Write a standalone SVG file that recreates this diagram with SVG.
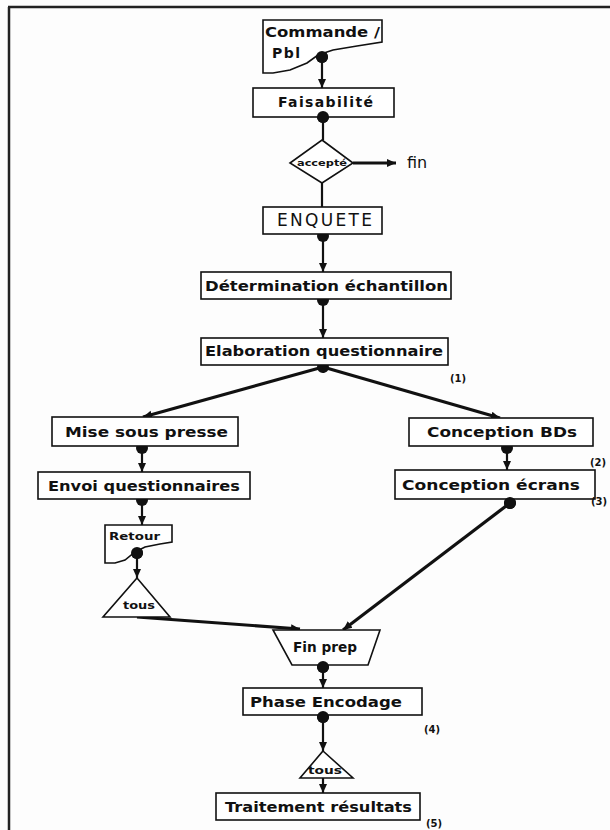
<svg xmlns="http://www.w3.org/2000/svg" width="610" height="830" viewBox="0 0 610 830">
<style>
.box{fill:#fff;stroke:#111;stroke-width:1.6}
.t{font-family:"DejaVu Sans","Liberation Sans",Arial,sans-serif;font-weight:bold;font-size:14px;fill:#111}
.s{font-family:"DejaVu Sans","Liberation Sans",Arial,sans-serif;font-weight:bold;font-size:11px;fill:#111}
.n{font-family:"DejaVu Sans","Liberation Sans",Arial,sans-serif;font-weight:bold;font-size:10px;fill:#111}
.c{stroke:#111;stroke-width:2.2;fill:none}
.k{stroke:#111;stroke-width:3.2;fill:none}
</style>
<defs>
<marker id="arr" markerUnits="userSpaceOnUse" markerWidth="10" markerHeight="10" refX="9" refY="5" orient="auto">
<path d="M0,1 L9,5 L0,9 Z" fill="#111"/>
</marker>
<marker id="dot" markerUnits="userSpaceOnUse" markerWidth="14" markerHeight="14" refX="7" refY="7" orient="auto">
<circle cx="7" cy="7" r="6" fill="#111"/>
</marker>
</defs>
<rect width="610" height="830" fill="#fdfdfd"/>
<g id="frame">
<line x1="8" y1="7" x2="610" y2="7" stroke="#222" stroke-width="2.5"/>
<line x1="9" y1="7" x2="9" y2="830" stroke="#222" stroke-width="2.5"/>
</g>
<g id="connectors">
<line class="c" x1="322" y1="57" x2="322" y2="88" marker-start="url(#dot)" marker-end="url(#arr)"/>
<line class="c" x1="323" y1="117" x2="323" y2="140" marker-start="url(#dot)"/>
<line class="k" x1="353" y1="163" x2="396" y2="163" marker-end="url(#arr)"/>
<line class="c" x1="322" y1="183" x2="322" y2="207"/>
<line class="c" x1="323" y1="236" x2="323" y2="272" marker-start="url(#dot)" marker-end="url(#arr)"/>
<line class="c" x1="323" y1="300" x2="323" y2="338" marker-start="url(#dot)" marker-end="url(#arr)"/>
<line class="k" x1="323" y1="367" x2="143" y2="417" marker-start="url(#dot)" marker-end="url(#arr)"/>
<line class="k" x1="323" y1="367" x2="500" y2="418" marker-end="url(#arr)"/>
<line class="c" x1="142" y1="448" x2="142" y2="472" marker-start="url(#dot)" marker-end="url(#arr)"/>
<line class="c" x1="507" y1="448" x2="507" y2="470" marker-start="url(#dot)" marker-end="url(#arr)"/>
<line class="c" x1="142" y1="500" x2="142" y2="525" marker-start="url(#dot)" marker-end="url(#arr)"/>
<line class="c" x1="137" y1="553" x2="137" y2="578" marker-start="url(#dot)" marker-end="url(#arr)"/>
<line class="k" x1="137" y1="617" x2="300" y2="629" marker-end="url(#arr)"/>
<line class="k" x1="510" y1="503" x2="343" y2="630" marker-start="url(#dot)" marker-end="url(#arr)"/>
<line class="c" x1="323" y1="667" x2="323" y2="688" marker-start="url(#dot)" marker-end="url(#arr)"/>
<line class="c" x1="323" y1="717" x2="323" y2="751" marker-start="url(#dot)" marker-end="url(#arr)"/>
<line class="c" x1="323" y1="778" x2="323" y2="793" marker-end="url(#arr)"/>
</g>
<g id="commande">
<path class="box" d="M263,20 L382,20 L382,42 L357,46 L333,50 L318,55 L307,63 L290,70 L273,73 L263,73 Z"/>
<text class="t" x="265" y="37" textLength="115" lengthAdjust="spacingAndGlyphs">Commande /</text>
<text class="t" x="272" y="58" textLength="28" lengthAdjust="spacing">Pbl</text>
<circle cx="322" cy="57" r="6" fill="#111"/>
</g>
<g id="faisabilite">
<rect class="box" x="253" y="88" width="141" height="29"/>
<text class="t" x="278" y="107" textLength="95" lengthAdjust="spacing">Faisabilité</text>
<circle cx="323" cy="117" r="6" fill="#111"/>
</g>
<g id="accepte">
<path class="box" d="M322,140 L353,163 L322,183 L290,163 Z"/>
<text x="322" y="166" text-anchor="middle" font-family="DejaVu Sans, Liberation Sans, sans-serif" font-weight="bold" font-size="8" fill="#111" textLength="50" lengthAdjust="spacingAndGlyphs">accepté</text>
</g>
<g id="fin">
<text x="407" y="168" font-family="DejaVu Sans, Liberation Sans, sans-serif" font-size="16" fill="#111">fin</text>
</g>
<g id="enquete">
<rect class="box" x="263" y="207" width="119" height="27"/>
<text x="277" y="226" font-family="DejaVu Sans, Liberation Sans, sans-serif" font-size="17" fill="#111" textLength="95" lengthAdjust="spacing">ENQUETE</text>
</g>
<g id="determination">
<rect class="box" x="201" y="272" width="250" height="27"/>
<text class="t" x="205" y="291" textLength="243" lengthAdjust="spacingAndGlyphs">Détermination échantillon</text>
</g>
<g id="elaboration">
<rect class="box" x="201" y="338" width="247" height="27"/>
<text class="t" x="205" y="356" textLength="238" lengthAdjust="spacingAndGlyphs">Elaboration questionnaire</text>
<text class="n" x="450" y="382">(1)</text>
</g>
<g id="mise">
<rect class="box" x="52" y="417" width="186" height="29"/>
<text class="t" x="65" y="437" textLength="163" lengthAdjust="spacingAndGlyphs">Mise sous presse</text>
</g>
<g id="envoi">
<rect class="box" x="38" y="472" width="212" height="27"/>
<text class="t" x="48" y="491" textLength="192" lengthAdjust="spacingAndGlyphs">Envoi questionnaires</text>
</g>
<g id="bds">
<rect class="box" x="409" y="418" width="184" height="28"/>
<text class="t" x="427" y="437" textLength="150" lengthAdjust="spacingAndGlyphs">Conception BDs</text>
<text class="n" x="590" y="466">(2)</text>
</g>
<g id="ecrans">
<rect class="box" x="395" y="470" width="200" height="29"/>
<text class="t" x="402" y="490" textLength="178" lengthAdjust="spacingAndGlyphs">Conception écrans</text>
<text class="n" x="591" y="505">(3)</text>
<circle cx="510" cy="503" r="6" fill="#111"/>
</g>
<g id="retour">
<path class="box" d="M105,525 L172,525 L172,542 L160,544 L145,547 L135,552 L125,560 L115,563 L105,563 Z"/>
<text class="s" x="109" y="540" textLength="51" lengthAdjust="spacingAndGlyphs">Retour</text>
<circle cx="137" cy="553" r="6" fill="#111"/>
</g>
<g id="tous1">
<path class="box" d="M137,578 L170,617 L103,617 Z"/>
<text class="s" x="123" y="609" textLength="32" lengthAdjust="spacingAndGlyphs">tous</text>
</g>
<g id="finprep">
<path class="box" d="M273,630 L380,630 L368,665 L292,665 Z"/>
<text class="t" x="293" y="652" textLength="64" lengthAdjust="spacingAndGlyphs">Fin prep</text>
<circle cx="323" cy="667" r="6" fill="#111"/>
</g>
<g id="encodage">
<rect class="box" x="243" y="688" width="179" height="27"/>
<text class="t" x="250" y="707" textLength="152" lengthAdjust="spacingAndGlyphs">Phase Encodage</text>
<text class="n" x="424" y="733">(4)</text>
<circle cx="323" cy="717" r="6" fill="#111"/>
</g>
<g id="tous2">
<path class="box" d="M323,751 L353,778 L300,778 Z"/>
<text class="s" x="308" y="774" textLength="34" lengthAdjust="spacingAndGlyphs">tous</text>
</g>
<g id="traitement">
<rect class="box" x="216" y="793" width="204" height="27"/>
<text class="t" x="225" y="812" textLength="187" lengthAdjust="spacingAndGlyphs">Traitement résultats</text>
<text class="n" x="426" y="827">(5)</text>
</g>
</svg>
